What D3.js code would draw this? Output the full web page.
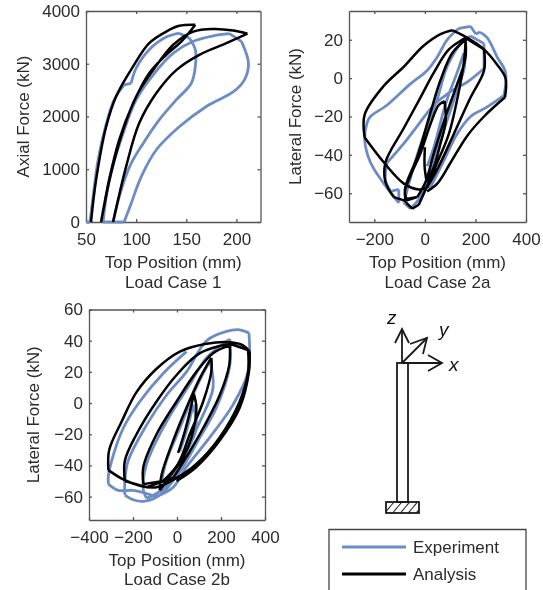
<!DOCTYPE html>
<html>
<head>
<meta charset="utf-8">
<script src="https://cdnjs.cloudflare.com/ajax/libs/d3/7.8.5/d3.min.js"></script>
<style>
html, body { margin: 0; padding: 0; background: #fff; overflow: hidden; }
svg { display: block; filter: blur(0.55px); }
text { font-family: "Liberation Sans", Arial, sans-serif; font-size: 17px; fill: #2b2b2b; }
</style>
</head>
<body>
<script>
const width = 543
const height = 590
const blue = "#6c8cc6"
const black = "#000"

// load case 1: [top position mm, axial force kN]
const case1Experiment = [[50,0],[54,0],[57,475],[62,1170],[69,1775],[78,2315],[88,2600],[95,2630],[100,2915],[113,3265],[130,3505],[143,3580],[153,3487],[159,3265],[159,2950],[155,2630],[140,2315],[123,1935],[107,1490],[95,1110],[85,600],[77,0],[67,0],[73,790],[87,1680],[100,2315],[117,2790],[137,3200],[157,3425],[177,3530],[193,3570],[205,3425],[212,3010],[208,2695],[197,2470],[170,2190],[143,1805],[120,1365],[105,855],[95,350],[88,0],[77,0]]
const case1Analysis = [[55,0],[60,790],[70,1800],[80,2380],[97,2950],[113,3390],[130,3610],[143,3720],[159,3740],[145,3420],[130,3170],[113,2820],[97,2250],[83,1550],[73,790],[65,0],[75,920],[87,1740],[100,2380],[117,2880],[137,3360],[157,3610],[177,3660],[197,3630],[211,3570],[190,3390],[163,3170],[140,2880],[120,2440],[103,1870],[90,1050],[77,0]]

// load case 2a: [top position mm, lateral force kN]
const case2aExperiment = [[9,-46],[36,-36],[62,-23],[88,-11],[128,3],[154,13],[157,6],[128,-6],[88,-22],[49,-36],[16,-50],[-17,-62],[-57,-68],[-83,-65],[-44,-46],[9,-25],[49,-11],[88,6],[148,19],[181,22],[234,18],[234,5],[168,-2],[102,-7],[36,-14],[-30,-25],[-83,-34],[-149,-44],[-156,-53],[-136,-59],[-103,-58],[-103,-65],[-162,-55],[-215,-44],[-238,-32],[-228,-23],[-215,-20],[-149,-14],[-57,-3],[9,4],[49,11],[88,20],[135,26],[181,27],[201,23],[218,24],[247,21],[286,11],[319,3],[313,-9],[247,-15],[181,-20],[128,-29],[75,-43],[22,-57],[-11,-57]]
const case2aAnalysis = [[0,-36],[-1,-46],[7,-54],[36,-46],[62,-34],[82,-23],[78,-12],[55,-14],[22,-24],[-17,-39],[-57,-51],[-79,-59],[-73,-65],[-50,-68],[-24,-66],[3,-58],[49,-44],[95,-29],[128,-11],[154,8],[161,19],[160,10],[128,-3],[82,-20],[36,-39],[3,-54],[-30,-62],[-73,-63],[-79,-58],[-30,-41],[22,-18],[62,-1],[108,13],[161,20],[160,10],[128,-3],[82,-20],[36,-39],[3,-54],[-30,-62],[-77,-64],[-123,-62],[-156,-54],[-156,-44],[-83,-26],[-17,-10],[36,3],[95,15],[161,21],[234,15],[234,4],[181,-10],[115,-29],[55,-46],[9,-57],[-24,-58],[-83,-55],[-162,-44],[-238,-31],[-238,-19],[-162,-4],[-83,6],[-4,17],[62,23],[108,25],[168,21],[234,15],[286,7],[319,0],[317,-10],[234,-20],[168,-30],[102,-44],[49,-55],[9,-59]]

// load case 2b: [top position mm, lateral force kN]
const case2bExperiment = [[13,-31],[51,-14],[73,-1],[88,-16],[43,-31],[-17,-44],[-78,-56],[-48,-37],[13,-16],[88,10],[149,27],[164,10],[104,-12],[28,-33],[-63,-55],[-138,-61],[-153,-56],[-138,-39],[-48,-12],[58,12],[134,29],[240,41],[240,24],[179,-3],[104,-22],[13,-44],[-78,-59],[-153,-63],[-199,-62],[-237,-59],[-237,-50],[-222,-37],[-138,-14],[-48,5],[43,20],[134,40],[225,46],[285,47],[327,45],[323,20],[255,-1],[149,-22],[43,-41],[-17,-54],[-93,-60],[-199,-56],[-267,-56],[-312,-52],[-312,-47],[-297,-37],[-244,-16],[-169,1],[-63,19],[43,33]]
const case2bAnalysis = [[5,-32],[36,-18],[66,-1],[76,6],[88,-3],[66,-22],[28,-35],[-33,-47],[-78,-56],[-70,-46],[-17,-24],[43,-3],[104,16],[156,29],[156,20],[119,1],[58,-20],[5,-39],[-63,-50],[-153,-52],[-153,-41],[-93,-20],[-2,1],[88,20],[164,32],[240,37],[237,24],[194,5],[119,-16],[58,-31],[-17,-48],[-138,-54],[-237,-50],[-237,-37],[-184,-20],[-93,1],[-2,18],[104,32],[240,38],[323,34],[323,20],[285,1],[194,-22],[88,-39],[-2,-48],[-93,-54],[-169,-53],[-244,-49],[-312,-43],[-308,-30],[-252,-12],[-184,7],[-93,22],[13,33],[134,38],[240,39],[300,37],[330,33],[327,20],[285,-3],[194,-24],[88,-41],[-2,-50]]

const svg = d3.select('body')
        .append('svg')
        .attr('width', width)
        .attr('height', height)

const hatch = svg.append('defs').append('pattern')
        .attr('id', 'hatch')
        .attr('width', 6)
        .attr('height', 6)
        .attr('patternUnits', 'userSpaceOnUse')
        .attr('patternTransform', 'rotate(40)')
hatch.append('line')
        .attr('x1', 0).attr('y1', 0).attr('x2', 0).attr('y2', 6)
        .attr('stroke', '#222').attr('stroke-width', 2)

// smooth curve between sharp turns, so the peaks of a loop stay pointed
const cornerPath = (pts) => {
    const line = d3.line().curve(d3.curveCatmullRom.alpha(0.5))
    const runs = [[pts[0]]]
    for (let i = 1; i < pts.length; i++) {
        runs[runs.length - 1].push(pts[i])
        if (i < pts.length - 1) {
            const a = Math.atan2(pts[i][1] - pts[i - 1][1], pts[i][0] - pts[i - 1][0])
            const b = Math.atan2(pts[i + 1][1] - pts[i][1], pts[i + 1][0] - pts[i][0])
            let turn = Math.abs(a - b)
            if (turn > Math.PI) turn = 2 * Math.PI - turn
            if (turn > 0.6) runs.push([pts[i]])
        }
    }
    return runs.map(r => line(r)).join('')
}

// one axes box with inward ticks on all four sides, matlab style
const drawPanel = (p) => {
    const x = d3.scaleLinear().domain(p.xDomain).range([p.left, p.right])
    const y = d3.scaleLinear().domain(p.yDomain).range([p.bottom, p.top])

    const sides = [
        [d3.axisBottom(x), p.bottom, true],
        [d3.axisTop(x), p.top, false],
    ]
    sides.forEach(([axis, pos, labels]) => {
        const g = svg.append('g')
            .attr('transform', `translate(0,${pos})`)
            .call(axis.tickValues(p.xTicks).tickFormat(labels ? d3.format("") : '').tickSizeInner(-3).tickSizeOuter(0).tickPadding(11))
        g.selectAll('path,line').attr('stroke', '#555').attr('stroke-width', 1.3)
    })
    const ySides = [
        [d3.axisLeft(y), p.left, true],
        [d3.axisRight(y), p.right, false],
    ]
    ySides.forEach(([axis, pos, labels]) => {
        const g = svg.append('g')
            .attr('transform', `translate(${pos},0)`)
            .call(axis.tickValues(p.yTicks).tickFormat(labels ? d3.format("") : '').tickSizeInner(-3).tickSizeOuter(0).tickPadding(6))
        g.selectAll('path,line').attr('stroke', '#555').attr('stroke-width', 1.3)
    })
    svg.selectAll('.tick text').style('font-size', '17px').attr('font-family', null)

    const toPx = d => [x(d[0]), y(d[1])]
    svg.append('path')
        .attr('d', cornerPath(p.experiment.map(toPx)))
        .attr('fill', 'none')
        .attr('stroke', blue)
        .attr('stroke-width', 2.8)
        .attr('stroke-linejoin', 'round')
    svg.append('path')
        .attr('d', cornerPath(p.analysis.map(toPx)))
        .attr('fill', 'none')
        .attr('stroke', black)
        .attr('stroke-width', 2.5)
        .attr('stroke-linejoin', 'round')

    const cx = (p.left + p.right) / 2
    svg.append('text').text('Top Position (mm)')
        .attr('x', cx).attr('y', p.bottom + p.labelDy).attr('text-anchor', 'middle')
    svg.append('text').text(p.title)
        .attr('x', cx).attr('y', p.bottom + p.titleDy).attr('text-anchor', 'middle')
    svg.append('text').text(p.yLabel)
        .attr('text-anchor', 'middle')
        .attr('transform', `translate(${p.yLabelX},${(p.top + p.bottom) / 2}) rotate(-90)`)
}

drawPanel({
    left: 86, right: 260.5, top: 11, bottom: 222,
    xDomain: [50, 224], yDomain: [0, 4000],
    xTicks: [50, 100, 150, 200], yTicks: [0, 1000, 2000, 3000, 4000],
    experiment: case1Experiment, analysis: case1Analysis,
    title: 'Load Case 1', yLabel: 'Axial Force (kN)', yLabelX: 29, labelDy: 46, titleDy: 66,
})
drawPanel({
    left: 349, right: 526, top: 11, bottom: 222,
    xDomain: [-300, 400], yDomain: [-75, 35],
    xTicks: [-200, 0, 200, 400], yTicks: [-60, -40, -20, 0, 20],
    experiment: case2aExperiment, analysis: case2aAnalysis,
    title: 'Load Case 2a', yLabel: 'Lateral Force (kN)', yLabelX: 301, labelDy: 46, titleDy: 66,
})
drawPanel({
    left: 89, right: 265, top: 309.5, bottom: 520,
    xDomain: [-400, 400], yDomain: [-75, 60],
    xTicks: [-400, -200, 0, 200, 400], yTicks: [-60, -40, -20, 0, 20, 40, 60],
    experiment: case2bExperiment, analysis: case2bAnalysis,
    title: 'Load Case 2b', yLabel: 'Lateral Force (kN)', yLabelX: 39, labelDy: 46, titleDy: 65,
})

// column sketch with the coordinate arrows
const sketch = svg.append('g')
        .attr('fill', 'none')
        .attr('stroke', '#1a1a1a')
        .attr('stroke-width', 1.8)
sketch.append('rect').attr('x', 397).attr('y', 363).attr('width', 11).attr('height', 139)
sketch.append('rect').attr('x', 386).attr('y', 502).attr('width', 33).attr('height', 11)
        .attr('fill', 'url(#hatch)')
const arrows = [
    [[402, 363], [402, 329]], [[395, 343], [402, 329], [409, 343]],
    [[402, 363], [427, 338]], [[410, 344], [427, 338], [423, 354]],
    [[402, 363], [442, 363]], [[428, 355], [442, 363], [428, 371]],
]
arrows.forEach(a => sketch.append('path').attr('d', d3.line()(a)))
const axisNames = [['z', 387, 324], ['y', 439, 336], ['x', 449, 371]]
axisNames.forEach(([t, tx, ty]) => svg.append('text').text(t)
        .attr('x', tx).attr('y', ty)
        .style('font-style', 'italic').style('font-size', '19px').style('fill', '#111'))

// legend box runs off the bottom of the page
svg.append('path')
        .attr('d', 'M329,590V529.5H526V590')
        .attr('fill', 'none').attr('stroke', '#444').attr('stroke-width', 1.3)
const legendRows = [['Experiment', blue, 547], ['Analysis', black, 574]]
legendRows.forEach(([name, color, ly]) => {
    svg.append('line').attr('x1', 342).attr('x2', 406).attr('y1', ly).attr('y2', ly)
        .attr('stroke', color).attr('stroke-width', 2.8)
    svg.append('text').text(name).attr('x', 413).attr('y', ly + 6)
})
</script>
</body>
</html>
